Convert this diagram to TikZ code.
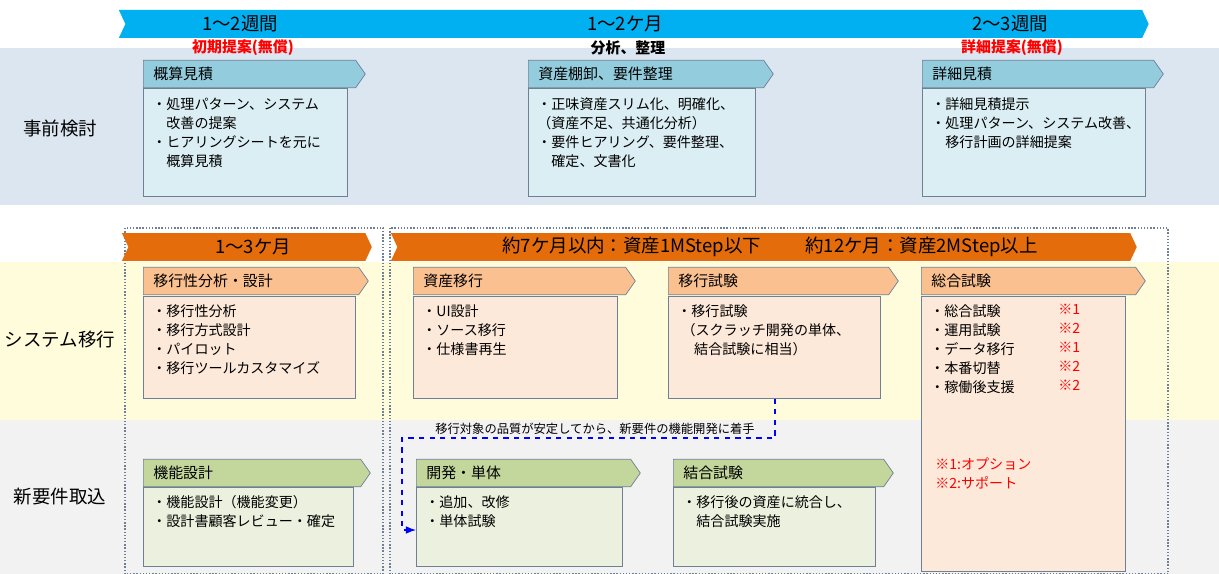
\documentclass[tikz,border=0pt]{standalone}
\usepackage{fontspec}
\setmainfont{Noto Sans CJK JP}
\usetikzlibrary{arrows.meta,positioning,shapes.symbols}
\definecolor{bandA}{HTML}{DCE6F1}
\definecolor{bandB}{HTML}{FFFCDC}
\definecolor{bandC}{HTML}{F2F2F2}
\definecolor{skyA}{HTML}{00B0F0}
\definecolor{orgA}{HTML}{E46C0A}
\definecolor{hdBlue}{HTML}{93CDDD}
\definecolor{bdBlue}{HTML}{DBEEF4}
\definecolor{hdOrg}{HTML}{FAC090}
\definecolor{bdOrg}{HTML}{FDE9D9}
\definecolor{hdGrn}{HTML}{C3D69B}
\definecolor{bdGrn}{HTML}{EBF1DE}
\definecolor{lnBox}{HTML}{6E7F96}
\definecolor{redA}{HTML}{FF0000}
\begin{document}
\begin{tikzpicture}[x=0.02cm, y=-0.02cm,
    >=Latex,
    every node/.append style={font=\fontsize{8}{10.8}\selectfont},
    phase/.style={signal, signal from=west, signal to=east, signal pointer angle=130,
      minimum height=0.56cm, inner sep=0, anchor=west},
    ptxt/.style={font=\fontsize{10.5}{12}\selectfont},
    head/.style={signal, signal to=east, signal pointer angle=110, draw=lnBox,
      minimum height=0.55cm, minimum width=4.44cm, inner sep=0, anchor=west},
    htxt/.style={anchor=west, inner sep=0, font=\fontsize{8.5}{10}\selectfont},
    body/.style={draw=lnBox, anchor=north west, minimum width=4.08cm, inner sep=0},
    txt/.style={anchor=north west, align=left, inner sep=0},
    lane/.style={font=\fontsize{10.5}{12}\selectfont},
    frame/.style={draw=lnBox, densely dotted, thick}]
    \useasboundingbox (0,0) rectangle (1219,574);

    % bands
    \fill[bandA] (0,48) rectangle (1219,205);
    \fill[bandB] (0,262) rectangle (1219,420);
    \fill[bandC] (0,420) rectangle (1219,574);
    \node[lane] (L1) at (60,128) {事前検討};
    \node[lane] (L2) at (60,340) {システム移行};
    \node[lane] (L3) at (60,497) {新要件取込};

    % phases
    \node[phase, fill=skyA, minimum width=20.6cm] (P1) at (125,24) {};
    \node[ptxt] (P1a) at (240,24) {1～2週間};
    \node[ptxt] (P1b) at (625,24) {1～2ケ月};
    \node[ptxt] (P1c) at (1010,24) {2～3週間};
    \node[text=redA, font=\bfseries\fontsize{8.5}{10}\selectfont] (S1) at (243,48) {初期提案(無償)};
    \node[font=\bfseries\fontsize{8.5}{10}\selectfont] (S2) at (628,48) {分析、整理};
    \node[text=redA, font=\bfseries\fontsize{8.5}{10}\selectfont] (S3) at (1012,48) {詳細提案(無償)};

    \draw[frame] (125,228) rectangle (383,574);
    \draw[frame] (390,228) rectangle (1168,574);
    \node[phase, fill=orgA, minimum width=5cm] (P2) at (128,247) {};
    \node[ptxt] (P2a) at (253,247) {1～3ケ月};
    \node[phase, fill=orgA, minimum width=14.92cm] (P3) at (397,247) {};
    \node[ptxt] (P3a) at (770,247) {約7ケ月以内：資産1MStep以下\hspace{2.4em}約12ケ月：資産2MStep以上};

    % pre-study boxes
    \node[body, fill=bdBlue, minimum height=2.16cm] (B1) at (143,88) {};
    \node[head, fill=hdBlue] (H1) at (143,74) {};
    \node[htxt] (K1) at (153,74) {概算見積};
    \node[txt] (T1) at (152,97) {・処理パターン、システム\\\hspace{1em}改善の提案\\・ヒアリングシートを元に\\\hspace{1em}概算見積};
    \node[body, fill=bdBlue, minimum height=2.16cm, minimum width=4.54cm] (B2) at (528,88) {};
    \node[head, fill=hdBlue, minimum width=4.9cm] (H2) at (528,74) {};
    \node[htxt] (K2) at (538,74) {資産棚卸、要件整理};
    \node[txt] (T2) at (537,97) {・正味資産スリム化、明確化、\\（資産不足、共通化分析）\\・要件ヒアリング、要件整理、\\\hspace{1em}確定、文書化};
    \node[body, fill=bdBlue, minimum height=2.16cm, minimum width=4.46cm] (B3) at (922,88) {};
    \node[head, fill=hdBlue, minimum width=4.82cm] (H3) at (922,74) {};
    \node[htxt] (K3) at (932,74) {詳細見積};
    \node[txt] (T3) at (931,97) {・詳細見積提示\\・処理パターン、システム改善、\\\hspace{1em}移行計画の詳細提案};

    % migration boxes
    \node[body, fill=bdOrg, minimum height=2.04cm, minimum width=4.24cm] (B4) at (143,296) {};
    \node[head, fill=hdOrg, minimum width=4.5cm] (H4) at (143,281) {};
    \node[htxt] (K4) at (153,281) {移行性分析・設計};
    \node[txt] (T4) at (152,304) {・移行性分析\\・移行方式設計\\・パイロット\\・移行ツールカスタマイズ};
    \node[body, fill=bdOrg, minimum height=2.04cm] (B5) at (413,296) {};
    \node[head, fill=hdOrg] (H5) at (413,281) {};
    \node[htxt] (K5) at (423,281) {資産移行};
    \node[txt] (T5) at (422,304) {・UI設計\\・ソース移行\\・仕様書再生};
    \node[body, fill=bdOrg, minimum height=2.04cm, minimum width=4.24cm] (B6) at (668,296) {};
    \node[head, fill=hdOrg, minimum width=4.6cm] (H6) at (668,281) {};
    \node[htxt] (K6) at (678,281) {移行試験};
    \node[txt] (T6) at (677,304) {・移行試験\\\hspace{0.3em}（スクラッチ開発の単体、\\\hspace{1.2em}結合試験に相当）};
    \node[body, fill=bdOrg, minimum height=5.5cm] (B7) at (921,296) {};
    \node[head, fill=hdOrg, minimum width=4.48cm] (H7) at (921,281) {};
    \node[htxt] (K7) at (931,281) {総合試験};
    \node[txt] (T7) at (930,304) {・総合試験\\・運用試験\\・データ移行\\・本番切替\\・稼働後支援};
    \node[txt, text=redA] (M7) at (1058,304) {※1\\※2\\※1\\※2\\※2};
    \node[txt, text=redA] (N7) at (935,457) {※1:オプション\\※2:サポート};

    % new requirement boxes
    \node[body, fill=bdGrn, minimum height=1.58cm, minimum width=4.2cm] (B8) at (143,487) {};
    \node[head, fill=hdGrn, minimum width=4.54cm] (H8) at (143,473) {};
    \node[htxt] (K8) at (153,473) {機能設計};
    \node[txt] (T8) at (152,495) {・機能設計（機能変更）\\・設計書顧客レビュー・確定};
    \node[body, fill=bdGrn, minimum height=1.58cm, minimum width=4.12cm] (B9) at (416,487) {};
    \node[head, fill=hdGrn, minimum width=4.48cm] (H9) at (416,473) {};
    \node[htxt] (K9) at (426,473) {開発・単体};
    \node[txt] (T9) at (425,495) {・追加、改修\\・単体試験};
    \node[body, fill=bdGrn, minimum height=1.58cm, minimum width=4.04cm] (B10) at (673,487) {};
    \node[head, fill=hdGrn, minimum width=4.4cm] (H10) at (673,473) {};
    \node[htxt] (K10) at (683,473) {結合試験};
    \node[txt] (T10) at (682,495) {・移行後の資産に統合し、\\\hspace{1em}結合試験実施};

    % dependency
    \coordinate (E) at (416,530);
    \node[font=\fontsize{7}{8}\selectfont] (D) at (595,429) {移行対象の品質が安定してから、新要件の機能開発に着手};
    \draw[->, blue, dashed, semithick] (B6.south -| 775,0) |- (402,438) |- (E);
\end{tikzpicture}
\end{document}
